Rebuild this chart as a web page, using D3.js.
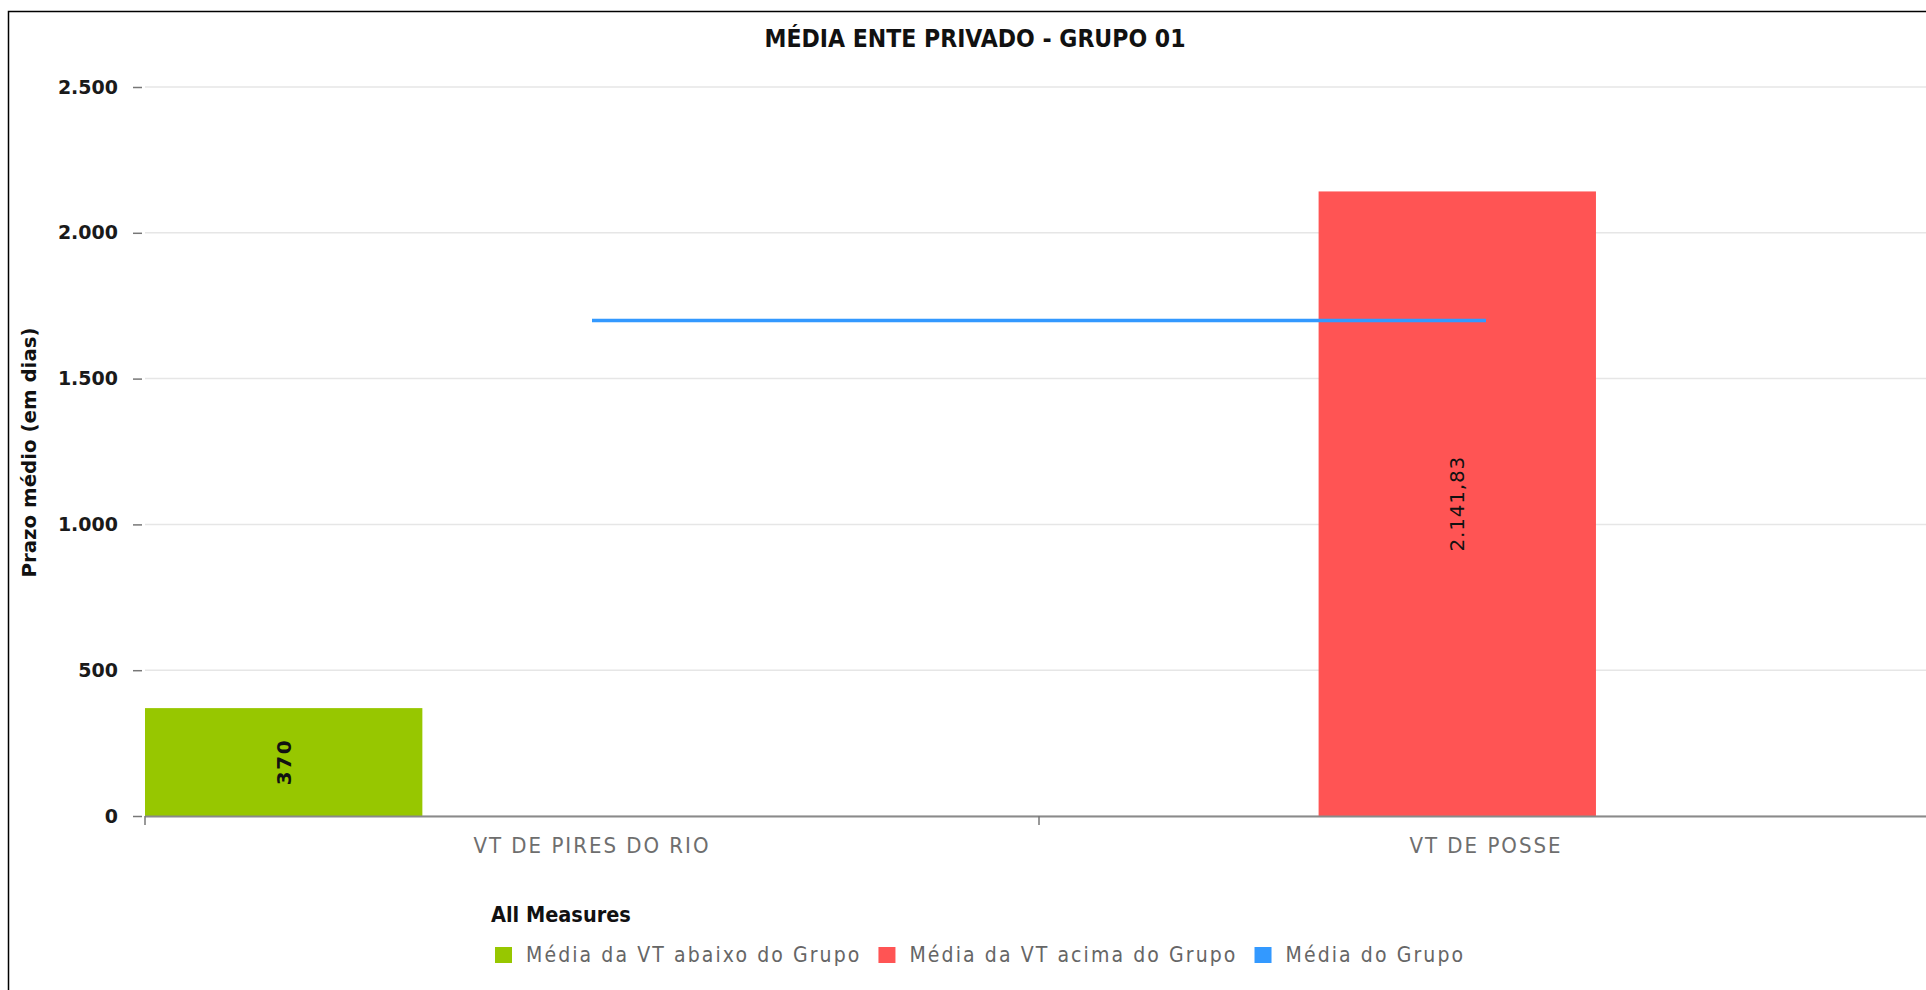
<!DOCTYPE html>
<html>
<head>
<meta charset="utf-8">
<script src="https://cdn.jsdelivr.net/npm/d3@7"></script>
<style>
  html, body { margin: 0; padding: 0; background: #fff; }
  svg { display: block; }
</style>
</head>
<body>
<svg id="chart" width="1926" height="990"></svg>
<script>
// ---- data ----
const categories = ["VT DE PIRES DO RIO", "VT DE POSSE"];
const seriesNames = ["Média da VT abaixo do Grupo", "Média da VT acima do Grupo", "Média do Grupo"];
const belowValues = [370, null];
const aboveValues = [null, 2141.83];
const groupAverage = [1699, 1699];
const yTicks = [0, 500, 1000, 1500, 2000, 2500];
const titleText = "MÉDIA ENTE PRIVADO - GRUPO 01";
const yTitleText = "Prazo médio (em dias)";
const legendTitle = "All Measures";

// ---- styles ----
const colors = ["#97c700", "#ff5454", "#3399ff"];
const W = 1926, H = 990;
const plot = { left: 145, right: 1933, top: 87, bottom: 816 };

const locale = d3.formatLocale({ decimal: ",", thousands: ".", grouping: [3], currency: ["R$", ""] });
const fmtTick = locale.format(",d");
const fmtVal = locale.format(",.2~f");

const svg = d3.select("#chart");

// frame
svg.append("rect").attr("x", 8.5).attr("y", 11.5).attr("width", W + 20).attr("height", H + 20)
  .attr("fill", "none").attr("stroke", "#000").attr("stroke-width", 1.5);

// scales
const y = d3.scaleLinear().domain([0, 2500]).range([plot.bottom, plot.top]);
const x0 = d3.scaleBand().domain(categories).range([plot.left, plot.right]).paddingInner(0).paddingOuter(0);
const barSeries = [seriesNames[0], seriesNames[1]];
const x1 = d3.scaleBand().domain(barSeries).range([0, x0.bandwidth() * 0.623]).paddingInner(0.008);

// gridlines
svg.append("g").selectAll("line").data(yTicks).join("line")
  .attr("x1", plot.left).attr("x2", W)
  .attr("y1", d => y(d)).attr("y2", d => y(d))
  .attr("stroke", "#e6e6e6").attr("stroke-width", 1.5);

// y axis
const yAxis = d3.axisLeft(y).tickValues(yTicks).tickFormat(fmtTick).tickSize(9).tickPadding(15);
const gy = svg.append("g").attr("transform", `translate(${plot.left - 3},0)`).call(yAxis);
gy.select(".domain").remove();
gy.selectAll(".tick line").attr("stroke", "#777").attr("stroke-width", 1.5);
gy.selectAll(".tick text")
  .attr("font-family", "DejaVu Sans").attr("font-weight", "bold").attr("font-size", 19)
  .attr("fill", "#1a1a1a");

// bars
const barData = [];
categories.forEach((c, i) => {
  if (belowValues[i] != null) barData.push({ cat: c, s: barSeries[0], v: belowValues[i], color: colors[0] });
  if (aboveValues[i] != null) barData.push({ cat: c, s: barSeries[1], v: aboveValues[i], color: colors[1] });
});
svg.append("g").selectAll("rect").data(barData).join("rect")
  .attr("x", d => x0(d.cat) + x1(d.s))
  .attr("width", x1.bandwidth())
  .attr("y", d => y(d.v))
  .attr("height", d => y(0) - y(d.v))
  .attr("fill", d => d.color);

// x axis
const xAxisG = svg.append("g");
xAxisG.append("line").attr("x1", plot.left).attr("x2", W).attr("y1", y(0) + 0.5).attr("y2", y(0) + 0.5)
  .attr("stroke", "#8a8a8a").attr("stroke-width", 2);
const catEdges = categories.map(c => x0(c));
xAxisG.selectAll("line.tk").data(catEdges).join("line").attr("class", "tk")
  .attr("x1", d => d).attr("x2", d => d).attr("y1", y(0)).attr("y2", y(0) + 9)
  .attr("stroke", "#777").attr("stroke-width", 1.5);
xAxisG.selectAll("text").data(categories).join("text")
  .attr("x", d => x0(d) + x0.bandwidth() / 2)
  .attr("y", y(0) + 37)
  .attr("text-anchor", "middle")
  .attr("font-family", "DejaVu Sans Condensed").attr("font-size", 22)
  .attr("letter-spacing", 2)
  .attr("fill", "#6e6e6e")
  .text(d => d);

// group average line
const line = d3.line().x((d, i) => x0(categories[i]) + x0.bandwidth() / 2).y(d => y(d));
svg.append("path").datum(groupAverage).attr("d", line)
  .attr("fill", "none").attr("stroke", colors[2]).attr("stroke-width", 3.5);

// value labels
svg.append("g").selectAll("text").data(barData).join("text")
  .attr("transform", d => `translate(${x0(d.cat) + x1(d.s) + x1.bandwidth() / 2 + 7},${(y(d.v) + y(0)) / 2}) rotate(-90)`)
  .attr("text-anchor", "middle")
  .attr("font-family", "DejaVu Sans")
  .attr("font-weight", d => d.v < 1000 ? "bold" : "normal")
  .attr("font-size", 20)
  .attr("letter-spacing", d => d.v < 1000 ? 1.6 : 0.8)
  .attr("fill", "#111")
  .text(d => fmtVal(d.v));

// title
svg.append("text").attr("x", 975).attr("y", 47).attr("text-anchor", "middle")
  .attr("font-family", "DejaVu Sans Condensed").attr("font-weight", "bold").attr("font-size", 24.5)
  .attr("fill", "#111")
  .text(titleText);

// y title
svg.append("text").attr("transform", `translate(36,${(plot.top + plot.bottom) / 2 + 1}) rotate(-90)`)
  .attr("text-anchor", "middle")
  .attr("font-family", "DejaVu Sans").attr("font-weight", "bold").attr("font-size", 19.8)
  .attr("fill", "#111")
  .text(yTitleText);

// legend
const lg = svg.append("g");
lg.append("text").attr("x", 491).attr("y", 922)
  .attr("font-family", "DejaVu Sans Condensed").attr("font-weight", "bold").attr("font-size", 21.5)
  .attr("fill", "#111").text(legendTitle);
let lx = 495;
seriesNames.forEach((s, i) => {
  lg.append("rect").attr("x", lx).attr("y", 947).attr("width", 17).attr("height", 16).attr("fill", colors[i]);
  const t = lg.append("text").attr("x", lx + 31).attr("y", 962)
    .attr("font-family", "DejaVu Sans Condensed").attr("font-size", 21)
    .attr("letter-spacing", 2.1)
    .attr("fill", "#666").text(s);
  lx = lx + 31 + t.node().getComputedTextLength() + 17;
});
</script>
</body>
</html>
